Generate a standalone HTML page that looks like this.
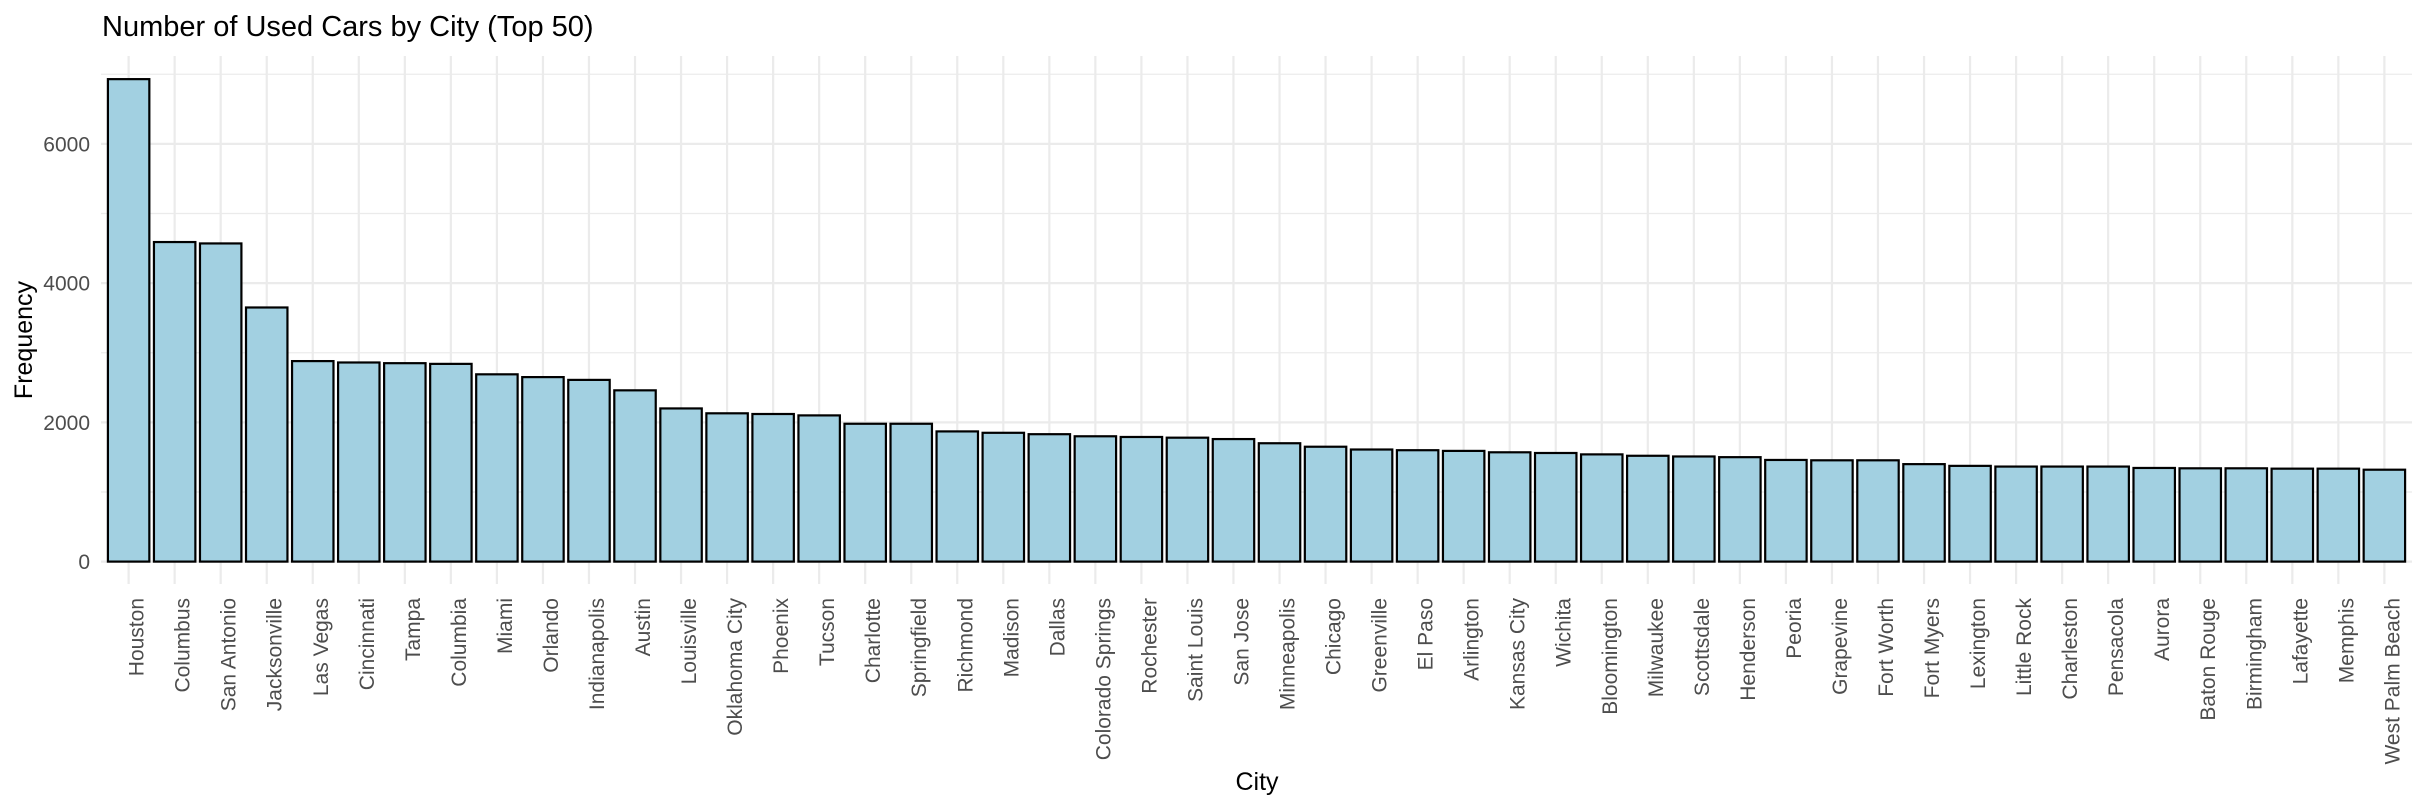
<!DOCTYPE html>
<html><head><meta charset="utf-8"><style>
html,body{margin:0;padding:0;background:#fff;}
svg{display:block;font-family:"Liberation Sans",Arial,sans-serif;}
</style></head><body>
<svg id="chart" width="2426" height="808" xmlns="http://www.w3.org/2000/svg">
<text x="102" y="36" font-size="29" fill="#000">Number of Used Cars by City (Top 50)</text>
<g id="grid"></g><g id="bars"></g><g id="yticks"></g><g id="xticks"></g>
<text transform="translate(32,340) rotate(-90)" text-anchor="middle" font-size="25" fill="#000">Frequency</text>
<text x="1257" y="790" text-anchor="middle" font-size="25" fill="#000">City</text>
</svg>
<script>
const categories = ["Houston","Columbus","San Antonio","Jacksonville","Las Vegas","Cincinnati","Tampa","Columbia","Miami","Orlando","Indianapolis","Austin","Louisville","Oklahoma City","Phoenix","Tucson","Charlotte","Springfield","Richmond","Madison","Dallas","Colorado Springs","Rochester","Saint Louis","San Jose","Minneapolis","Chicago","Greenville","El Paso","Arlington","Kansas City","Wichita","Bloomington","Milwaukee","Scottsdale","Henderson","Peoria","Grapevine","Fort Worth","Fort Myers","Lexington","Little Rock","Charleston","Pensacola","Aurora","Baton Rouge","Birmingham","Lafayette","Memphis","West Palm Beach"];
const values = [6930,4590,4570,3650,2880,2860,2850,2840,2690,2650,2610,2460,2200,2130,2120,2100,1980,1980,1870,1850,1830,1800,1790,1780,1760,1700,1650,1610,1600,1590,1570,1560,1540,1520,1510,1500,1460,1455,1455,1400,1375,1365,1365,1365,1345,1340,1340,1335,1335,1320];
const yTicks = [0,2000,4000,6000];
const yMinor = [1000,3000,5000,7000];
const NS="http://www.w3.org/2000/svg";
const panelL=101, panelR=2412, panelT=56, panelB=584;
const step=(panelR-panelL)/(categories.length+0.2);
function x(i){return panelL+step*(0.6+i);}
function y(v){return 561.6 - v*0.06962;}
function mk(tag,attrs,parent){const e=document.createElementNS(NS,tag);for(const k in attrs)e.setAttribute(k,attrs[k]);document.getElementById(parent).appendChild(e);return e;}
yMinor.forEach(v=>{if(y(v)<panelT)return;const l=mk('line',{x1:panelL,x2:panelR,y1:y(v),y2:y(v),stroke:'#ebebeb','stroke-width':1.2},'grid');

});
yTicks.forEach(v=>{const l=mk('line',{x1:panelL,x2:panelR,y1:y(v),y2:y(v),stroke:'#ebebeb','stroke-width':2.2},'grid');


const t=mk('text',{x:90,y:y(v)+7.5,'text-anchor':'end','font-size':21,fill:'#4d4d4d'},'yticks');t.textContent=v;

});
categories.forEach((c,i)=>{const cx=x(i);
const g=mk('line',{x1:cx,x2:cx,y1:panelT,y2:panelB,stroke:'#ebebeb','stroke-width':2.2},'grid');


const w=step*0.9;const top=y(values[i]);
const r=mk('rect',{x:cx-w/2,y:top,width:w,height:y(0)-top,fill:'#a2d0e1',stroke:'#000','stroke-width':2.2},'bars');


const t=mk('text',{transform:`translate(${cx+15},598) rotate(-90)`,'text-anchor':'end','font-size':21,fill:'#4d4d4d'},'xticks');t.textContent=c;

});
</script>
</body></html>
